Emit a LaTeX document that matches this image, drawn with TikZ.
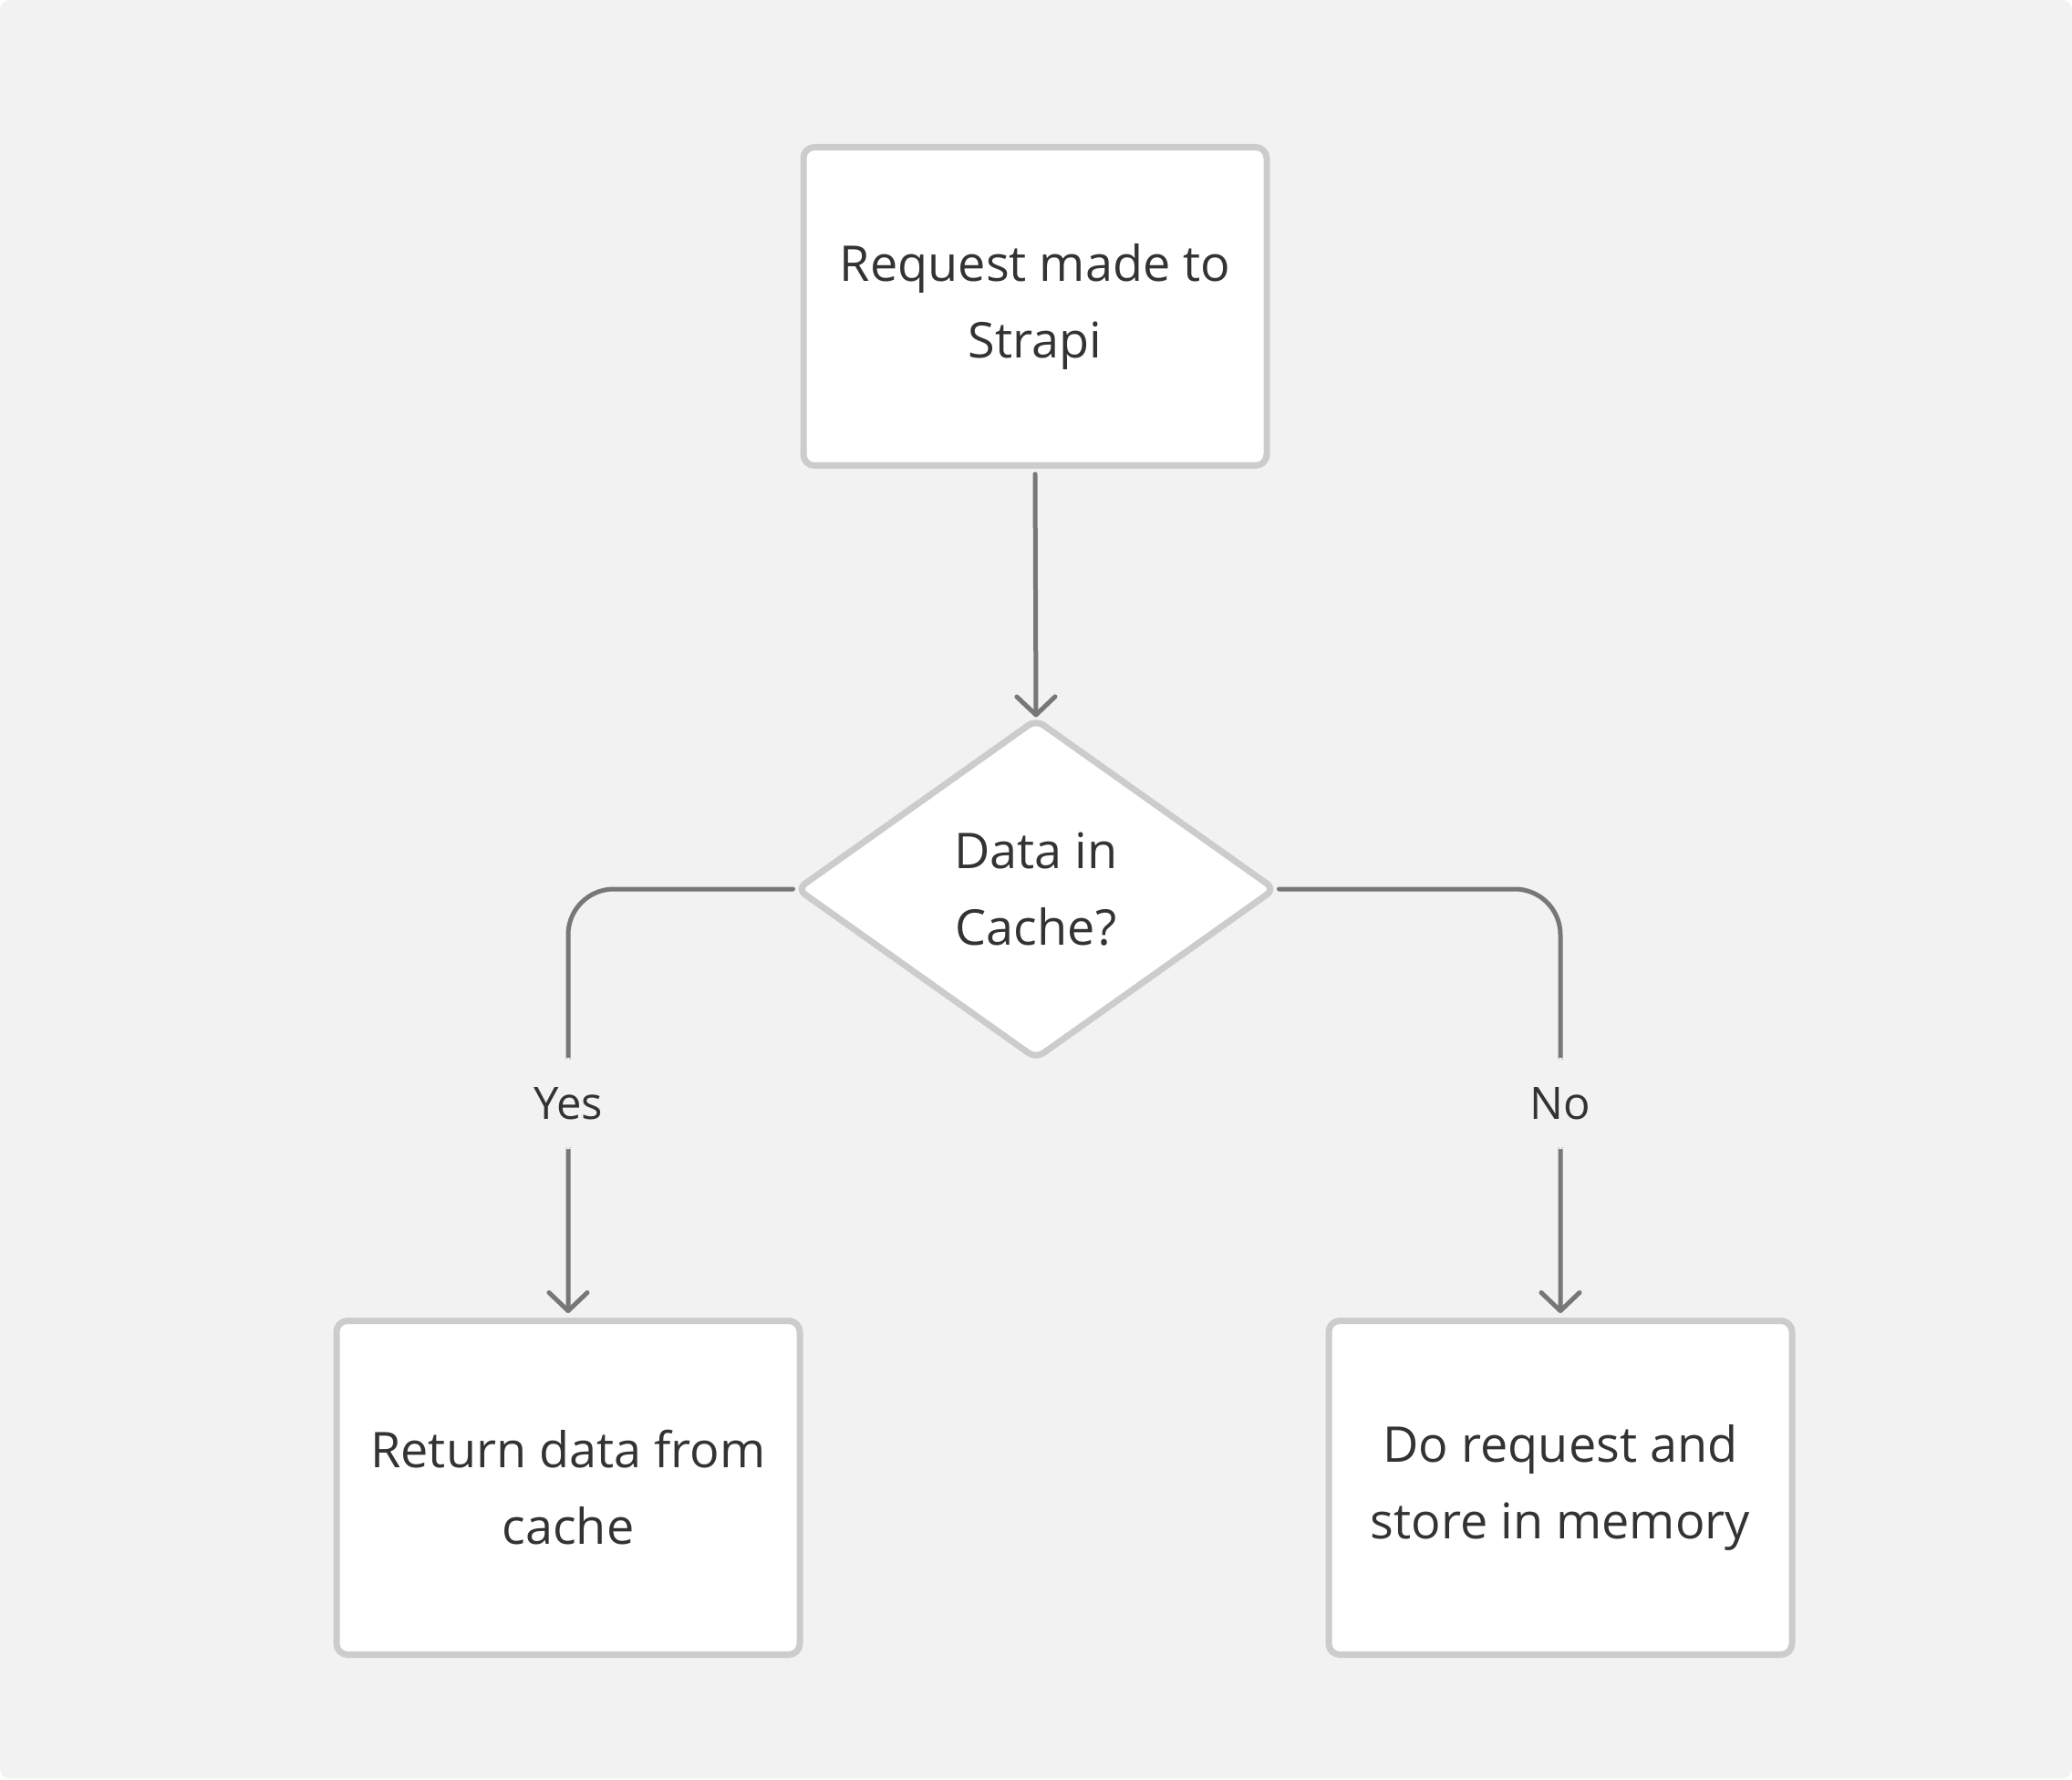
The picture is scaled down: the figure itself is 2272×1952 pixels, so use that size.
\documentclass[tikz,border=0pt]{standalone}
\usepackage{fontspec}
\setmainfont{Open Sans}
\usetikzlibrary{shapes.geometric,arrows.meta}
\definecolor{bg}{HTML}{F2F2F2}
\definecolor{bord}{HTML}{CCCCCC}
\definecolor{connc}{HTML}{777777}
\definecolor{txt}{HTML}{333333}
\begin{document}
\begin{tikzpicture}[x=0.5pt,y=-0.5pt,
  box/.style={draw=bord, line width=3.5pt, fill=white, rounded corners=6pt,
    minimum width=254pt, minimum height=174.5pt, inner sep=0pt, align=center,
    text=txt, font=\fontsize{27}{42}\selectfont},
  tallbox/.style={box, minimum height=183pt},
  dec/.style={diamond, draw=bord, line width=3.5pt, fill=white, rounded corners=5pt,
    minimum width=263pt, minimum height=187pt, inner sep=0pt, align=center,
    text=txt, font=\fontsize{27}{42}\selectfont},
  connector/.style={draw=connc, line width=2.5pt, line cap=round,
    -{Straight Barb[length=10pt,width=21pt,round]}},
  lbl/.style={fill=bg, text=txt, font=\fontsize{24.5}{28}\selectfont,
    inner sep=0pt, minimum height=50pt, minimum width=40pt}
]
\fill[bg, rounded corners=5pt] (0,0) rectangle (2272,1950);
\useasboundingbox (0,0) rectangle (2272,1952);

\node[box] (req) at (1135,336) {Request made to\\Strapi};
\node[dec] (dic) at (1136,975) {Data in\\Cache?};
\node[tallbox] (ret) at (623,1631.5) {Return data from\\cache};
\node[tallbox] (do) at (1711,1631.5) {Do request and\\store in memory};

\draw[connector, shorten <=3pt, shorten >=-1pt] (req.south) -- (dic.north);
\draw[connector, rounded corners=25pt, shorten >=2.5pt] (dic.west) -- (dic.west -| ret.north) -- node[lbl]{Yes} (ret.north);
\draw[connector, rounded corners=25pt, shorten >=2.5pt] (dic.east) -- (dic.east -| do.north) -- node[lbl]{No} (do.north);
\end{tikzpicture}
\end{document}
